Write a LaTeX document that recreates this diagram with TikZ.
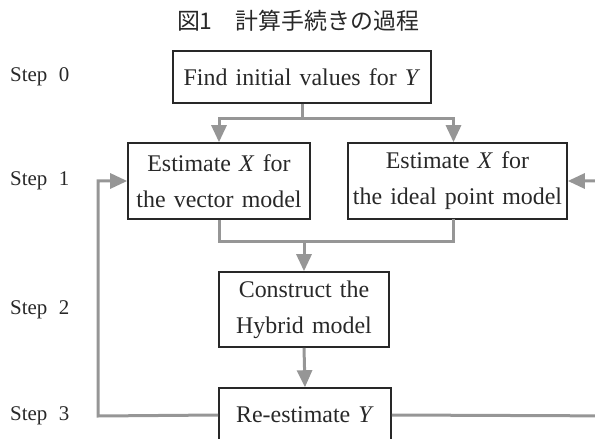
\documentclass[tikz,border=0pt]{standalone}
\usepackage{fontspec}
\setmainfont{Liberation Serif}
\newfontfamily\jpfont{Noto Sans CJK JP}
\usetikzlibrary{arrows.meta}

\definecolor{inkgray}{RGB}{40,40,40}
\definecolor{linegray}{RGB}{150,150,150}

% box text: large serif with slightly wide word spacing
\newcommand\boxtextfont{\fontsize{24}{36}\selectfont\spaceskip=8.2pt\relax}

\tikzset{
  stepbox/.style={draw=inkgray, line width=1.6bp, align=center, text=inkgray,
    inner sep=0pt, font=\boxtextfont},
  steplabel/.style={anchor=west, text=inkgray, inner sep=0pt,
    font=\fontsize{21}{26}\selectfont},
  conn/.style={draw=linegray, line width=3bp},
  arr/.style={conn, -{Triangle[width=15bp,length=17bp]}, color=linegray},
}

\begin{document}
\begin{tikzpicture}[x=1bp, y=-1bp]
  \clip (0,0) rectangle (595,439);

  % title
  \node[text=inkgray, inner sep=0pt, font=\jpfont\fontsize{23}{26}\selectfont]
    (title) at (298,21) {図1　計算手続きの過程};

  % step labels
  \node[steplabel] (s0) at (10,77)  {Step\hspace{0.55em}0};
  \node[steplabel] (s1) at (10,181) {Step\hspace{0.55em}1};
  \node[steplabel] (s2) at (10,310) {Step\hspace{0.55em}2};
  \node[steplabel] (s3) at (10,416) {Step\hspace{0.55em}3};

  % boxes
  \node[stepbox, minimum width=258bp, minimum height=52bp]
    (init) at (302,77) {Find initial values for \textit{Y}};
  \node[stepbox, minimum width=182bp, minimum height=76bp]
    (vec) at (219,181) {Estimate \textit{X} for\\the vector model};
  \node[stepbox, minimum width=219bp, minimum height=76bp]
    (ideal) at (457.5,181) {Estimate \textit{X} for\\the ideal point model};
  \node[stepbox, minimum width=170bp, minimum height=75bp]
    (hyb) at (304,309.5) {Construct the\\Hybrid model};
  \node[stepbox, minimum width=172bp, minimum height=54bp]
    (re) at (305,415) {Re-estimate \textit{Y}};

  % junction points
  \coordinate (split) at (302,119);
  \coordinate (idealin) at (453.5,119);
  \coordinate (idealout) at (453.5,219);
  \coordinate (join) at (304,242);
  \coordinate (lloop) at (98,416);
  \coordinate (rloop) at (630,416);

  % connectors
  \draw[conn] (init.south) -- (split);
  \draw[arr] (split) -| (vec.north);
  \draw[arr] (split) -- (idealin) -- (idealin |- ideal.north);
  \draw[conn] (vec.south) |- (join) -| (idealout);
  \draw[arr] (join) -- (hyb.north);
  \draw[arr] (hyb.south) -- (re.north);
  \draw[arr] (re.west) -- (lloop) |- (vec.west);
  \draw[arr] (re.east) -- (rloop) |- (ideal.east);
\end{tikzpicture}
\end{document}
